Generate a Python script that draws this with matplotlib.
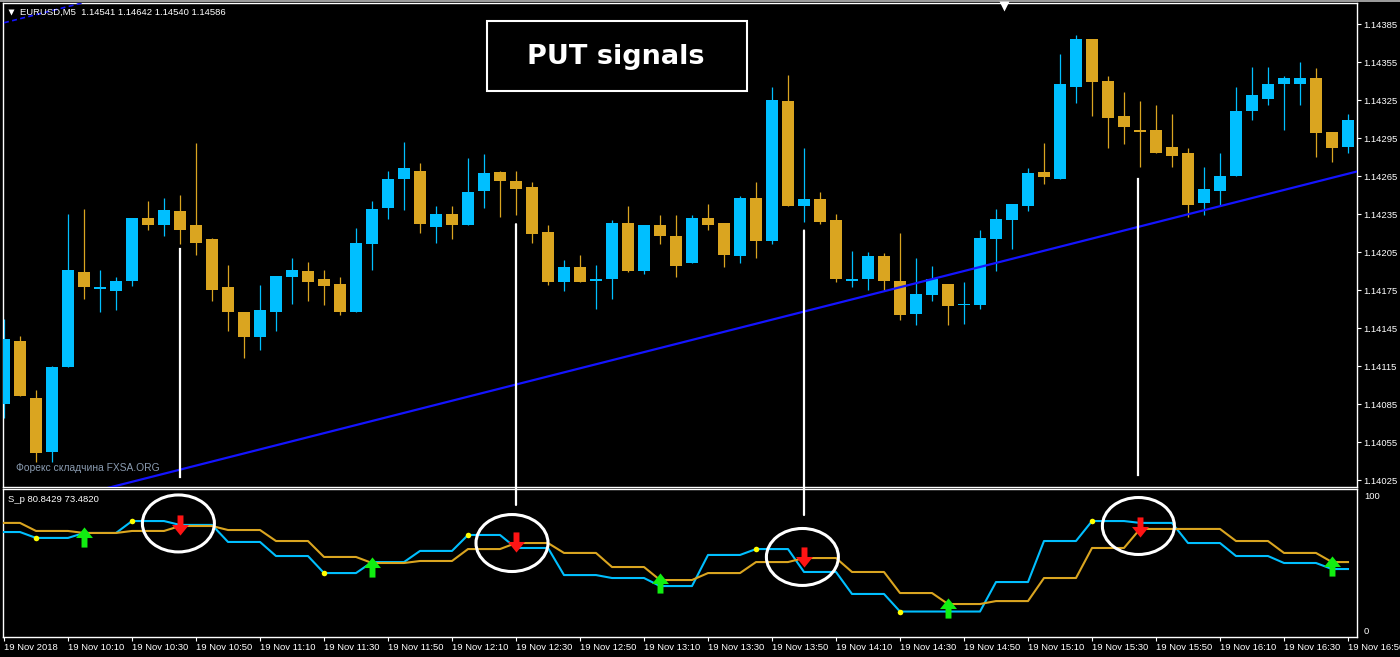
import numpy as np
import matplotlib
matplotlib.use("Agg")
import matplotlib.pyplot as plt
from matplotlib.patches import Ellipse, Rectangle, ConnectionPatch
from matplotlib.path import Path
from matplotlib.lines import Line2D

plt.rcParams['font.family'] = ['Liberation Sans', 'DejaVu Sans']

# EURUSD M5 candles, 09:50 .. 16:50
opens = [1.14085, 1.14135, 1.14090, 1.14047, 1.14114, 1.14189, 1.14176, 1.14174, 1.14182, 1.14232,
         1.14226, 1.14237, 1.14226, 1.14215, 1.14177, 1.14158, 1.14138, 1.14158, 1.14185, 1.14190,
         1.14184, 1.14180, 1.14158, 1.14211, 1.14240, 1.14263, 1.14269, 1.14225, 1.14235, 1.14226,
         1.14253, 1.14268, 1.14261, 1.14256, 1.14221, 1.14181, 1.14193, 1.14182, 1.14184, 1.14228,
         1.14190, 1.14226, 1.14218, 1.14196, 1.14232, 1.14228, 1.14202, 1.14248, 1.14214, 1.14324,
         1.14241, 1.14247, 1.14230, 1.14182, 1.14184, 1.14202, 1.14182, 1.14156, 1.14171, 1.14180,
         1.14163, 1.14163, 1.14215, 1.14230, 1.14241, 1.14268, 1.14263, 1.14335, 1.14373, 1.14340,
         1.14312, 1.14301, 1.14301, 1.14288, 1.14283, 1.14244, 1.14253, 1.14265, 1.14316, 1.14326,
         1.14338, 1.14338, 1.14342, 1.14300, 1.14288]
highs = [1.14152, 1.14139, 1.14096, 1.14115, 1.14235, 1.14239, 1.14191, 1.14185, 1.14232, 1.14245,
         1.14248, 1.14250, 1.14291, 1.14216, 1.14195, 1.14158, 1.14179, 1.14186, 1.14200, 1.14197,
         1.14191, 1.14185, 1.14224, 1.14245, 1.14269, 1.14292, 1.14275, 1.14241, 1.14241, 1.14279,
         1.14282, 1.14269, 1.14269, 1.14260, 1.14226, 1.14199, 1.14203, 1.14195, 1.14230, 1.14241,
         1.14226, 1.14234, 1.14234, 1.14234, 1.14243, 1.14228, 1.14249, 1.14260, 1.14335, 1.14345,
         1.14287, 1.14252, 1.14235, 1.14206, 1.14205, 1.14204, 1.14220, 1.14200, 1.14194, 1.14180,
         1.14181, 1.14222, 1.14239, 1.14243, 1.14271, 1.14291, 1.14361, 1.14376, 1.14373, 1.14344,
         1.14331, 1.14324, 1.14321, 1.14314, 1.14287, 1.14272, 1.14283, 1.14335, 1.14351, 1.14351,
         1.14344, 1.14355, 1.14350, 1.14300, 1.14314]
lows = [1.14074, 1.14091, 1.14039, 1.14039, 1.14114, 1.14168, 1.14158, 1.14159, 1.14178, 1.14222,
        1.14218, 1.14211, 1.14203, 1.14166, 1.14143, 1.14121, 1.14128, 1.14143, 1.14164, 1.14166,
        1.14163, 1.14155, 1.14158, 1.14191, 1.14231, 1.14238, 1.14220, 1.14212, 1.14215, 1.14226,
        1.14240, 1.14233, 1.14234, 1.14212, 1.14179, 1.14174, 1.14181, 1.14160, 1.14168, 1.14189,
        1.14188, 1.14211, 1.14185, 1.14196, 1.14222, 1.14193, 1.14196, 1.14200, 1.14211, 1.14241,
        1.14229, 1.14227, 1.14181, 1.14177, 1.14175, 1.14175, 1.14151, 1.14147, 1.14166, 1.14147,
        1.14148, 1.14160, 1.14190, 1.14207, 1.14237, 1.14259, 1.14263, 1.14323, 1.14312, 1.14287,
        1.14290, 1.14272, 1.14283, 1.14272, 1.14233, 1.14234, 1.14242, 1.14265, 1.14309, 1.14321,
        1.14301, 1.14321, 1.14280, 1.14276, 1.14283]
closes = [1.14136, 1.14091, 1.14046, 1.14114, 1.14191, 1.14177, 1.14177, 1.14182, 1.14232, 1.14226,
          1.14238, 1.14222, 1.14212, 1.14175, 1.14158, 1.14138, 1.14159, 1.14186, 1.14191, 1.14181,
          1.14178, 1.14158, 1.14212, 1.14239, 1.14263, 1.14271, 1.14227, 1.14235, 1.14226, 1.14252,
          1.14267, 1.14261, 1.14255, 1.14219, 1.14181, 1.14193, 1.14181, 1.14184, 1.14228, 1.14190,
          1.14226, 1.14218, 1.14194, 1.14232, 1.14226, 1.14203, 1.14248, 1.14214, 1.14325, 1.14241,
          1.14247, 1.14229, 1.14184, 1.14184, 1.14202, 1.14182, 1.14155, 1.14172, 1.14184, 1.14162,
          1.14164, 1.14216, 1.14231, 1.14243, 1.14267, 1.14264, 1.14338, 1.14373, 1.14339, 1.14311,
          1.14304, 1.14300, 1.14283, 1.14281, 1.14242, 1.14255, 1.14265, 1.14316, 1.14329, 1.14338,
          1.14342, 1.14342, 1.14299, 1.14287, 1.14309]

# S_p indicator (two lines)
sp_blue = [73.1, 73.1, 68.7, 68.7, 68.7, 72.4, 72.4, 72.4, 81.3, 81.3,
           81.3, 78.4, 78.4, 78.4, 65.7, 65.7, 65.7, 55.2, 55.2, 55.2,
           42.5, 42.5, 42.5, 50.7, 50.7, 50.7, 59.0, 59.0, 59.0, 70.9,
           70.9, 70.9, 61.2, 61.2, 61.2, 41.0, 41.0, 41.0, 38.8, 38.8,
           38.8, 32.8, 32.8, 32.8, 56.0, 56.0, 56.0, 60.4, 60.4, 60.4,
           43.3, 43.3, 43.3, 26.9, 26.9, 26.9, 13.8, 13.8, 13.8, 13.8,
           13.8, 13.8, 35.8, 35.8, 35.8, 66.4, 66.4, 66.4, 81.3, 81.3,
           81.3, 79.9, 79.9, 79.9, 64.9, 64.9, 64.9, 55.2, 55.2, 55.2,
           50.0, 50.0, 50.0, 45.5, 45.5]
sp_gold = [79.9, 79.9, 73.9, 73.9, 73.9, 72.4, 72.4, 72.4, 73.9, 73.9,
           73.9, 77.6, 77.6, 77.6, 74.6, 74.6, 74.6, 66.4, 66.4, 66.4,
           54.5, 54.5, 54.5, 50.0, 50.0, 50.0, 51.5, 51.5, 51.5, 60.4,
           60.4, 60.4, 64.9, 64.9, 64.9, 57.5, 57.5, 57.5, 47.0, 47.0,
           47.0, 37.3, 37.3, 37.3, 42.5, 42.5, 42.5, 50.7, 50.7, 50.7,
           53.7, 53.7, 53.7, 43.3, 43.3, 43.3, 27.6, 27.6, 27.6, 19.4,
           19.4, 19.4, 21.6, 21.6, 21.6, 38.8, 38.8, 38.8, 61.2, 61.2,
           61.2, 75.4, 75.4, 75.4, 75.4, 75.4, 75.4, 66.4, 66.4, 66.4,
           57.5, 57.5, 57.5, 50.7, 50.7]

dot_bars = [2, 8, 20, 29, 47, 56, 68]
buy_bars = [5, 23, 41, 59, 83]
buy_vals = [69.4, 47.0, 35.1, 16.4, 47.8]
sell_bars = [11, 32, 50, 71]
sell_vals = [78.4, 65.7, 54.5, 76.9]
circle_bars = [10.9, 31.75, 49.9, 70.9]
circle_vals = [79.5, 64.9, 54.5, 77.6]

# white marker lines: bar, top price, bottom (price or indicator value)
mark_bars = [11, 32, 50, 70.9]
mark_top = [1.14207, 1.14227, 1.14222, 1.14263]
mark_bottom = [1.14027, 93.3, 85.8, 1.14029]
mark_in_sub = [False, True, True, False]

trend_bars = [0, 85]
trend_prices = [1.13998, 1.14270]
chan_prices = [1.14386, 1.14658]

price_ticks = [1.14025, 1.14055, 1.14085, 1.14115, 1.14145, 1.14175,
               1.14205, 1.14235, 1.14265, 1.14295, 1.14325, 1.14355, 1.14385]
time_ticks = list(range(0, 85, 4))
time_labels = ['19 Nov 2018', '19 Nov 10:10', '19 Nov 10:30', '19 Nov 10:50', '19 Nov 11:10',
               '19 Nov 11:30', '19 Nov 11:50', '19 Nov 12:10', '19 Nov 12:30', '19 Nov 12:50',
               '19 Nov 13:10', '19 Nov 13:30', '19 Nov 13:50', '19 Nov 14:10', '19 Nov 14:30',
               '19 Nov 14:50', '19 Nov 15:10', '19 Nov 15:30', '19 Nov 15:50', '19 Nov 16:10',
               '19 Nov 16:30', '19 Nov 16:50']

BULL = '#00bfff'
BEAR = '#daa520'
FS = 6.8

W, H = 1400, 657
fig = plt.figure(figsize=(W / 100, H / 100), dpi=100, facecolor='black')

def box(x0, y0, x1, y1):
    return [x0 / W, 1 - y1 / H, (x1 - x0) / W, (y1 - y0) / H]

ax = fig.add_axes(box(3, 3, 1357, 487))
ax2 = fig.add_axes(box(3, 489, 1357, 637))
for a in (ax, ax2):
    a.set_facecolor('black')
    for s in a.spines.values():
        s.set_color('white')
        s.set_linewidth(1)
    a.set_xlim(-0.0625, 84.5625)

o = np.array(opens); c = np.array(closes)
hi = np.array(highs); lo = np.array(lows)
x = np.arange(len(o))
cols = np.where(c >= o, BULL, BEAR)
ax.vlines(x, lo, hi, colors=cols, linewidth=0.9, zorder=2)
ax.bar(x, np.maximum(np.abs(c - o), 0.000012), bottom=np.minimum(o, c), width=0.69,
       color=cols, linewidth=0, zorder=3)

ax.plot(trend_bars, trend_prices, color='#1414ff', lw=1.6, zorder=4)
ax.plot(trend_bars, chan_prices, color='#1414ff', lw=1.2, ls=(0, (3, 2)), zorder=4)

ax.set_ylim(1.140195, 1.144016)
ax.set_xticks([])
ax.yaxis.tick_right()
ax.set_yticks(price_ticks)
ax.set_yticklabels(['%.5f' % p for p in price_ticks])
ax.tick_params(axis='y', colors='white', length=3, width=0.8, pad=1.5, labelsize=FS)

# indicator panel
ax2.plot(x, sp_blue, color=BULL, lw=1.5, zorder=3)
ax2.plot(x, sp_gold, color=BEAR, lw=1.5, zorder=3)
ax2.plot(dot_bars, [sp_blue[i] for i in dot_bars], 'o', color='#ffff00', ms=4,
         mec='none', zorder=5)

up_arrow = Path([(0, 9.5), (8, -0.5), (2.8, -0.5), (2.8, -9.5), (-2.8, -9.5),
                 (-2.8, -0.5), (-8, -0.5), (0, 9.5)], closed=True)
dn_arrow = Path([(vx, -vy) for vx, vy in up_arrow.vertices], closed=True)
ax2.plot(buy_bars, buy_vals, ls='none', marker=up_arrow, ms=14.5, color='#11ee11',
         mec='none', zorder=6)
ax2.plot(sell_bars, sell_vals, ls='none', marker=dn_arrow, ms=14.5, color='#ff1414',
         mec='none', zorder=6)
for cb, cv in zip(circle_bars, circle_vals):
    ax2.add_patch(Ellipse((cb, cv), 4.5, 42.5, fill=False, ec='white', lw=2.2, zorder=7))

ax2.set_ylim(-5.2, 105.2)
ax2.yaxis.tick_right()
ax2.set_yticks([0, 100])
ax2.set_yticklabels(['0', '100'])
ax2.tick_params(axis='y', colors='white', length=0, pad=5, labelsize=FS)
ax2.set_xticks(time_ticks)
ax2.set_xticklabels(time_labels)
ax2.tick_params(axis='x', colors='white', length=3, width=0.8, pad=1.5, labelsize=FS)
for t in ax2.get_xticklabels():
    t.set_horizontalalignment('left')

# signal marker lines
for mb, mt, mbot, sub in zip(mark_bars, mark_top, mark_bottom, mark_in_sub):
    if sub:
        cp = ConnectionPatch((mb, mt), (mb, mbot), coordsA=ax.transData, coordsB=ax2.transData,
                             color='white', lw=1.6, shrinkA=0, shrinkB=0, zorder=8)
        fig.add_artist(cp)
    else:
        ax.plot([mb, mb], [mt, mbot], color='white', lw=1.6, zorder=5)

# texts
fig.text(20 / W, 1 - 12 / H, 'EURUSD,M5  1.14541 1.14642 1.14540 1.14586', color='white',
         fontsize=FS, va='center', ha='left')
fig.add_artist(Line2D([10.5 / W], [1 - 12 / H], marker='v', ms=4.3, color='white', mec='none',
                      transform=fig.transFigure))
fig.text(8 / W, 1 - 499 / H, 'S_p 80.8429 73.4820', color='white', fontsize=FS,
         va='center', ha='left')
fig.text(16 / W, 1 - 468 / H, 'Форекс складчина FXSA.ORG', color='#8a9bb0', fontsize=7.4,
         va='center', ha='left')

fig.add_artist(Rectangle((487 / W, 1 - 91 / H), 260 / W, 70 / H, transform=fig.transFigure,
                         fc='black', ec='white', lw=1.5, zorder=9))
fig.text(616 / W, 1 - 64 / H, 'PUT signals', color='white', fontsize=19.5, fontweight='bold',
         family='DejaVu Sans', ha='center', va='baseline', zorder=10)

# window top edge and chart shift marker
fig.add_artist(Rectangle((0, 1 - 2 / H), 1, 2 / H, transform=fig.transFigure,
                         fc='#9a9a9a', ec='none'))
fig.add_artist(Line2D([1003.5 / W], [1 - 5.5 / H], marker='v', ms=6.5, color='white', mec='none',
                      transform=fig.transFigure))

fig.savefig('out.png', dpi=100, facecolor='black')
